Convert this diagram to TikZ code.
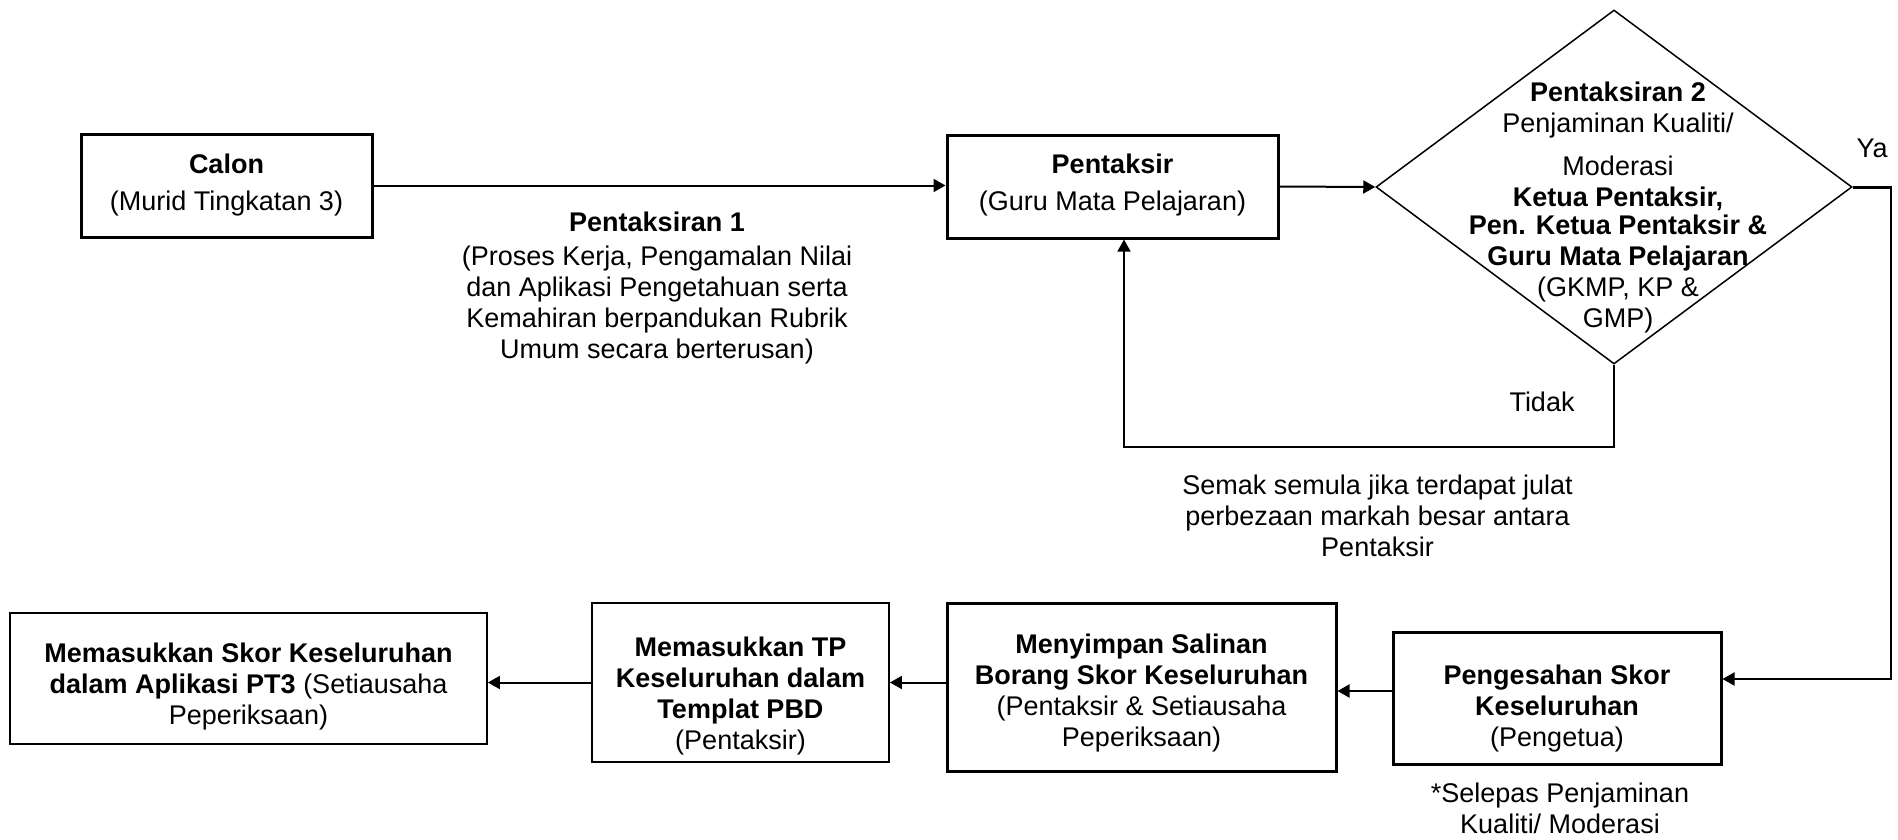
\documentclass[tikz,border=0pt]{standalone}
\usepackage{fontspec}
\setmainfont{Liberation Sans}
\usetikzlibrary{arrows.meta,shapes.geometric}
\begin{document}
\begin{tikzpicture}[x=1pt,y=-1pt,
  every node/.style={font=\fontsize{27}{31}\selectfont},
  thickbox/.style={draw,line width=3pt,inner sep=0pt},
  thinbox/.style={draw,line width=1.8pt,inner sep=0pt},
  txt/.style={align=center,inner sep=0pt},
  arr/.style={line width=2pt,-{Triangle[length=12pt,width=13pt]}}
]
\useasboundingbox (0,0) rectangle (1898,839);
% boxes
\node[thickbox,minimum width=291pt,minimum height=103pt] (calon) at (226.5,185.5) {};
\node[thickbox,minimum width=331pt,minimum height=103pt] (pent) at (1112.5,186.5) {};
\node[draw,line width=1.5pt,shape=diamond,inner sep=0pt,minimum width=476pt,minimum height=354pt] (dia) at (1614,187) {};
\node[thickbox,minimum width=389pt,minimum height=168pt] (meny) at (1141.5,687) {};
\node[thickbox,minimum width=328pt,minimum height=132pt] (peng) at (1557,698) {};
\node[thinbox,minimum width=297pt,minimum height=159pt] (tp) at (740.5,682.5) {};
\node[thinbox,minimum width=477pt,minimum height=131pt] (fin) at (248.5,678.5) {};
% texts
\node[txt] (calonT) at (226.5,185) {\textbf{Calon}\\[6pt](Murid Tingkatan 3)};
\node[txt] (pentT) at (1112.5,185) {\textbf{Pentaksir}\\[6pt](Guru Mata Pelajaran)};
\node[txt] (p1T) at (657,288.5) {\textbf{Pentaksiran 1}\\[3pt](Proses Kerja, Pengamalan Nilai\\dan Aplikasi Pengetahuan serta\\Kemahiran berpandukan Rubrik\\Umum secara berterusan)};
\node[txt] (diaT) at (1618,208) {\textbf{Pentaksiran 2}\\Penjaminan Kualiti/\\[12pt]Moderasi\\\textbf{Ketua Pentaksir,}\\[-3pt]\textbf{Pen. Ketua Pentaksir \&}\\\textbf{Guru Mata Pelajaran}\\(GKMP, KP \&\\GMP)};
\node[txt] (ya) at (1872,148) {Ya};
\node[txt] (tidak) at (1542,402) {Tidak};
\node[txt] (semak) at (1377.5,516) {Semak semula jika terdapat julat\\perbezaan markah besar antara\\Pentaksir};
\node[txt] (menyT) at (1141.5,693) {\textbf{Menyimpan Salinan}\\\textbf{Borang Skor Keseluruhan}\\(Pentaksir \& Setiausaha\\Peperiksaan)};
\node[txt] (pengT) at (1557,709) {\textbf{Pengesahan Skor}\\\textbf{Keseluruhan}\\(Pengetua)};
\node[txt] (selepas) at (1560,808) {*Selepas Penjaminan\\Kualiti/ Moderasi};
\node[txt] (tpT) at (740.5,696) {\textbf{Memasukkan TP}\\\textbf{Keseluruhan dalam}\\\textbf{Templat PBD}\\(Pentaksir)};
\node[txt] (finT) at (248.5,687) {\textbf{Memasukkan Skor Keseluruhan}\\\textbf{dalam Aplikasi PT3} (Setiausaha\\Peperiksaan)};
% connectors
\draw[arr] (calon.east) -- (calon.east -| pent.west);
\draw[arr] (pent.east) -- (dia.west);
\coordinate (ya1) at (1891,187);
\coordinate (ya2) at (1891,679);
\draw[line width=3pt] (dia.east) -- ([xshift=0.75pt]ya1);
\draw[line width=1.5pt] ([yshift=1.5pt]ya1) -- ([yshift=-1pt]ya2);
\draw[arr] ([xshift=0.75pt]ya2) -- (ya2 -| peng.east);
\coordinate (t1) at (1614,447);
\coordinate (t2) at (1124,447);
\draw[arr,line width=1.5pt] (dia.south) -- (t1) -- (t2) -- (t2 |- pent.south);
\draw[arr] ([yshift=7pt]peng.west) -- ([yshift=7pt]peng.west -| meny.east);
\draw[arr] ([yshift=4.5pt]meny.west) -- ([yshift=4.5pt]meny.west -| tp.east);
\draw[arr] (tp.west) -- (tp.west -| fin.east);
\end{tikzpicture}
\end{document}
